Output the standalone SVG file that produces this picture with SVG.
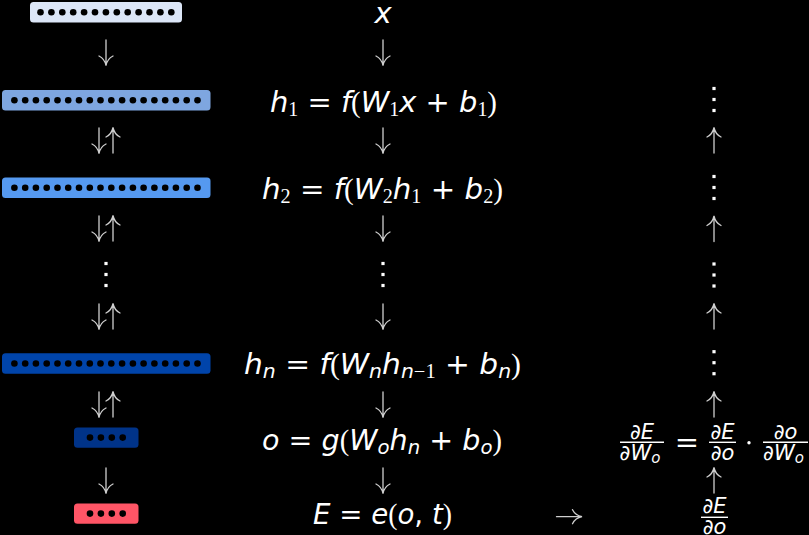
<svg xmlns="http://www.w3.org/2000/svg" xmlns:xlink="http://www.w3.org/1999/xlink" width="809" height="535" viewBox="0 0 809 535">
<style>
.bg{fill:#000}
.dot{fill:#000}
.eq{font-family:"DejaVu Sans",sans-serif;font-size:29px;fill:#fff;text-anchor:middle}
.fr{font-family:"DejaVu Sans",sans-serif;font-size:21px;fill:#fff;text-anchor:middle;font-style:italic}
.i{font-style:italic}
.n{font-family:"Liberation Serif",serif}
.s{font-size:20px;font-family:"Liberation Serif",serif}
.si{font-size:20px;font-style:italic}
.ar{fill:none;stroke:#cfcfcf;stroke-width:1.3;stroke-linecap:round}
.vd{fill:#fff}
.bar{stroke:#fff;stroke-width:1.4}
</style>
<defs>
<path id="dn" d="M0,-12.5 V12.5 M-7,3.5 C-3,5.5 -1,8 0,13 C1,8 3,5.5 7,3.5"/>
<path id="up" d="M0,12.5 V-12.5 M-7,-3.5 C-3,-5.5 -1,-8 0,-13 C1,-8 3,-5.5 7,-3.5"/>
<path id="rt" d="M-12.5,0 H12.5 M3.5,-7 C5.5,-3 8,-1 13,0 C8,1 5.5,3 3.5,7"/>
<g id="vd"><rect x="-1.6" y="-12.6" width="3.2" height="3.2"/><rect x="-1.6" y="-1.6" width="3.2" height="3.2"/><rect x="-1.6" y="9.4" width="3.2" height="3.2"/></g>
</defs>
<rect class="bg" x="0" y="0" width="809" height="535"/>

<g id="layer-input">
<rect x="30" y="2" width="152" height="20.5" rx="3.5" fill="#dce6f7"/>
<g class="dot">
<circle cx="40.5" cy="12.2" r="3.3"/><circle cx="51.4" cy="12.2" r="3.3"/><circle cx="62.3" cy="12.2" r="3.3"/><circle cx="73.2" cy="12.2" r="3.3"/><circle cx="84.1" cy="12.2" r="3.3"/><circle cx="95" cy="12.2" r="3.3"/><circle cx="105.9" cy="12.2" r="3.3"/><circle cx="116.8" cy="12.2" r="3.3"/><circle cx="127.7" cy="12.2" r="3.3"/><circle cx="138.6" cy="12.2" r="3.3"/><circle cx="149.5" cy="12.2" r="3.3"/><circle cx="160.4" cy="12.2" r="3.3"/><circle cx="171.3" cy="12.2" r="3.3"/>
</g>
</g>

<g id="layer-h1">
<rect x="2" y="90" width="208.5" height="20.5" rx="3.5" fill="#7ea6e0"/>
<g class="dot">
<circle cx="14.4" cy="100.2" r="3.3"/><circle cx="25.2" cy="100.2" r="3.3"/><circle cx="35.9" cy="100.2" r="3.3"/><circle cx="46.7" cy="100.2" r="3.3"/><circle cx="57.5" cy="100.2" r="3.3"/><circle cx="68.2" cy="100.2" r="3.3"/><circle cx="79" cy="100.2" r="3.3"/><circle cx="89.8" cy="100.2" r="3.3"/><circle cx="100.5" cy="100.2" r="3.3"/><circle cx="111.3" cy="100.2" r="3.3"/><circle cx="122.1" cy="100.2" r="3.3"/><circle cx="132.9" cy="100.2" r="3.3"/><circle cx="143.6" cy="100.2" r="3.3"/><circle cx="154.4" cy="100.2" r="3.3"/><circle cx="165.2" cy="100.2" r="3.3"/><circle cx="175.9" cy="100.2" r="3.3"/><circle cx="186.7" cy="100.2" r="3.3"/><circle cx="197.5" cy="100.2" r="3.3"/>
</g>
</g>

<g id="layer-h2">
<rect x="2" y="177.5" width="208.5" height="20.5" rx="3.5" fill="#5599f0"/>
<g class="dot">
<circle cx="14.4" cy="187.7" r="3.3"/><circle cx="25.2" cy="187.7" r="3.3"/><circle cx="35.9" cy="187.7" r="3.3"/><circle cx="46.7" cy="187.7" r="3.3"/><circle cx="57.5" cy="187.7" r="3.3"/><circle cx="68.2" cy="187.7" r="3.3"/><circle cx="79" cy="187.7" r="3.3"/><circle cx="89.8" cy="187.7" r="3.3"/><circle cx="100.5" cy="187.7" r="3.3"/><circle cx="111.3" cy="187.7" r="3.3"/><circle cx="122.1" cy="187.7" r="3.3"/><circle cx="132.9" cy="187.7" r="3.3"/><circle cx="143.6" cy="187.7" r="3.3"/><circle cx="154.4" cy="187.7" r="3.3"/><circle cx="165.2" cy="187.7" r="3.3"/><circle cx="175.9" cy="187.7" r="3.3"/><circle cx="186.7" cy="187.7" r="3.3"/><circle cx="197.5" cy="187.7" r="3.3"/>
</g>
</g>

<g id="layer-hn">
<rect x="2" y="353.3" width="208.5" height="20.5" rx="3.5" fill="#0044aa"/>
<g class="dot">
<circle cx="14.4" cy="363.5" r="3.3"/><circle cx="25.2" cy="363.5" r="3.3"/><circle cx="35.9" cy="363.5" r="3.3"/><circle cx="46.7" cy="363.5" r="3.3"/><circle cx="57.5" cy="363.5" r="3.3"/><circle cx="68.2" cy="363.5" r="3.3"/><circle cx="79" cy="363.5" r="3.3"/><circle cx="89.8" cy="363.5" r="3.3"/><circle cx="100.5" cy="363.5" r="3.3"/><circle cx="111.3" cy="363.5" r="3.3"/><circle cx="122.1" cy="363.5" r="3.3"/><circle cx="132.9" cy="363.5" r="3.3"/><circle cx="143.6" cy="363.5" r="3.3"/><circle cx="154.4" cy="363.5" r="3.3"/><circle cx="165.2" cy="363.5" r="3.3"/><circle cx="175.9" cy="363.5" r="3.3"/><circle cx="186.7" cy="363.5" r="3.3"/><circle cx="197.5" cy="363.5" r="3.3"/>
</g>
</g>

<g id="layer-o">
<rect x="74" y="427.5" width="64.5" height="20.3" rx="3.5" fill="#003388"/>
<g class="dot">
<circle cx="90" cy="437.6" r="3.3"/><circle cx="100.9" cy="437.6" r="3.3"/><circle cx="111.8" cy="437.6" r="3.3"/><circle cx="122.7" cy="437.6" r="3.3"/>
</g>
</g>

<g id="layer-error">
<rect x="74" y="503.5" width="64.5" height="20.3" rx="3.5" fill="#ff5566"/>
<g class="dot">
<circle cx="90" cy="513.6" r="3.3"/><circle cx="100.9" cy="513.6" r="3.3"/><circle cx="111.8" cy="513.6" r="3.3"/><circle cx="122.7" cy="513.6" r="3.3"/>
</g>
</g>

<g id="eq-x"><text class="eq" x="383" y="23.3"><tspan class="i">x</tspan></text></g>
<g id="eq-h1"><text class="eq" x="383.5" y="112" textLength="227" lengthAdjust="spacingAndGlyphs"><tspan class="i">h</tspan><tspan class="s" dy="4">1</tspan><tspan dy="-4"> = </tspan><tspan class="i">f</tspan><tspan class="n">(</tspan><tspan class="i">W</tspan><tspan class="s" dy="4">1</tspan><tspan class="i" dy="-4">x</tspan> + <tspan class="i">b</tspan><tspan class="s" dy="4">1</tspan><tspan class="n" dy="-4">)</tspan></text></g>
<g id="eq-h2"><text class="eq" x="382.5" y="199" textLength="241" lengthAdjust="spacingAndGlyphs"><tspan class="i">h</tspan><tspan class="s" dy="4">2</tspan><tspan dy="-4"> = </tspan><tspan class="i">f</tspan><tspan class="n">(</tspan><tspan class="i">W</tspan><tspan class="s" dy="4">2</tspan><tspan class="i" dy="-4">h</tspan><tspan class="s" dy="4">1</tspan><tspan dy="-4"> + </tspan><tspan class="i">b</tspan><tspan class="s" dy="4">2</tspan><tspan class="n" dy="-4">)</tspan></text></g>
<g id="eq-hn"><text class="eq" x="382.5" y="374" textLength="277" lengthAdjust="spacingAndGlyphs"><tspan class="i">h</tspan><tspan class="si" dy="4">n</tspan><tspan dy="-4"> = </tspan><tspan class="i">f</tspan><tspan class="n">(</tspan><tspan class="i">W</tspan><tspan class="si" dy="4">n</tspan><tspan class="i" dy="-4">h</tspan><tspan class="si" dy="4">n</tspan><tspan class="s">−1</tspan><tspan dy="-4"> + </tspan><tspan class="i">b</tspan><tspan class="si" dy="4">n</tspan><tspan class="n" dy="-4">)</tspan></text></g>
<g id="eq-o"><text class="eq" x="382" y="450" textLength="240" lengthAdjust="spacingAndGlyphs"><tspan class="i">o</tspan> = <tspan class="i">g</tspan><tspan class="n">(</tspan><tspan class="i">W</tspan><tspan class="si" dy="4">o</tspan><tspan class="i" dy="-4">h</tspan><tspan class="si" dy="4">n</tspan><tspan dy="-4"> + </tspan><tspan class="i">b</tspan><tspan class="si" dy="4">o</tspan><tspan class="n" dy="-4">)</tspan></text></g>
<g id="eq-E"><text class="eq" x="382.5" y="524" textLength="139" lengthAdjust="spacingAndGlyphs"><tspan class="i">E</tspan> = <tspan class="i">e</tspan><tspan class="n">(</tspan><tspan class="i">o</tspan>, <tspan class="i">t</tspan><tspan class="n">)</tspan></text></g>

<g id="grad-Wo">
<text class="fr" x="642" y="439">∂E</text>
<line class="bar" x1="620" y1="442.3" x2="664" y2="442.3"/>
<text class="fr" x="640" y="459.5">∂W<tspan font-size="15" dy="3">o</tspan></text>
<text class="eq" x="687" y="452">=</text>
<text class="fr" x="722.5" y="439">∂E</text>
<line class="bar" x1="709" y1="442.3" x2="736" y2="442.3"/>
<text class="fr" x="722.5" y="459.5">∂o</text>
<circle cx="749" cy="442.7" r="1.7" fill="#fff"/>
<text class="fr" x="785.5" y="439">∂o</text>
<line class="bar" x1="763" y1="442.3" x2="808" y2="442.3"/>
<text class="fr" x="783.5" y="459.5">∂W<tspan font-size="15" dy="3">o</tspan></text>
</g>
<g id="grad-o">
<text class="fr" x="714.5" y="513">∂E</text>
<line class="bar" x1="701" y1="517.3" x2="728" y2="517.3"/>
<text class="fr" x="714.5" y="534">∂o</text>
</g>

<g id="ellipses" class="vd">
<use xlink:href="#vd" x="106" y="274.5"/>
<use xlink:href="#vd" x="383" y="274.5"/>
<use xlink:href="#vd" x="714" y="99.5"/>
<use xlink:href="#vd" x="714" y="187.5"/>
<use xlink:href="#vd" x="714" y="275"/>
<use xlink:href="#vd" x="714" y="362.7"/>
</g>

<g id="connectors" class="ar">
<use xlink:href="#dn" x="106" y="52.5"/>
<use xlink:href="#dn" x="383" y="52.5"/>
<use xlink:href="#dn" x="99" y="140.5"/><use xlink:href="#up" x="113" y="140.5"/>
<use xlink:href="#dn" x="383" y="140.5"/><use xlink:href="#up" x="714" y="140.5"/>
<use xlink:href="#dn" x="99" y="228.5"/><use xlink:href="#up" x="113" y="228.5"/>
<use xlink:href="#dn" x="383" y="228.5"/><use xlink:href="#up" x="714" y="229"/>
<use xlink:href="#dn" x="99" y="316.5"/><use xlink:href="#up" x="113" y="316.5"/>
<use xlink:href="#dn" x="383" y="316.5"/><use xlink:href="#up" x="714" y="316.5"/>
<use xlink:href="#dn" x="99" y="404.5"/><use xlink:href="#up" x="113" y="404.5"/>
<use xlink:href="#dn" x="383" y="404.5"/><use xlink:href="#up" x="714" y="404.5"/>
<use xlink:href="#dn" x="106" y="480.5"/>
<use xlink:href="#dn" x="383" y="480.5"/><use xlink:href="#up" x="714" y="480.5"/>
<use xlink:href="#rt" x="569" y="516.7"/>
</g>
</svg>
